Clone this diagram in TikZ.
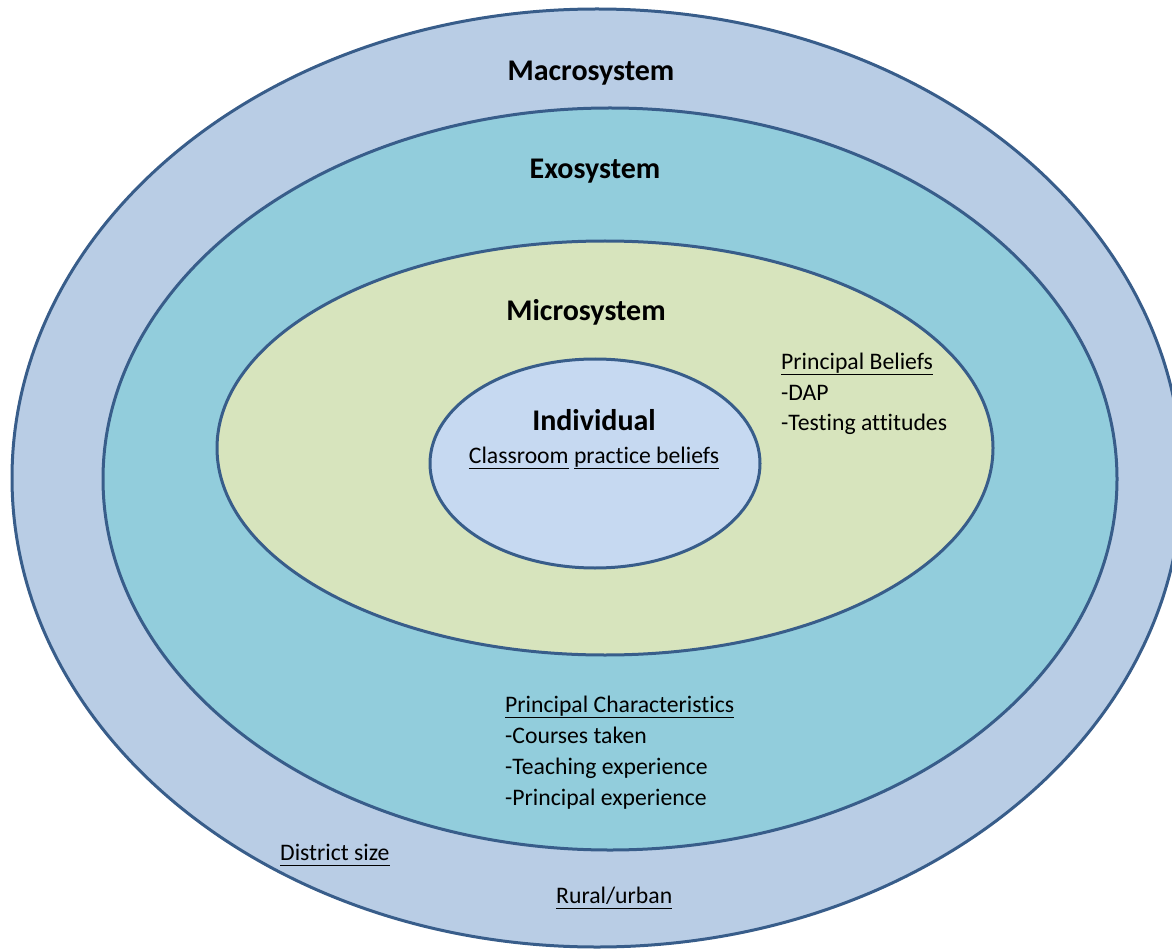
\documentclass[tikz,border=0pt]{standalone}
\usepackage{fontspec}
\setmainfont{Carlito}[Ligatures={NoCommon}]
\definecolor{ringline}{HTML}{385D8A}
\definecolor{macrofill}{HTML}{B9CDE5}
\definecolor{exofill}{HTML}{92CDDC}
\definecolor{microfill}{HTML}{D7E4BD}
\definecolor{indivfill}{HTML}{C6D9F1}
\newcommand\uln[1]{\underline{#1\vphantom{gp}}}
\begin{document}
\begin{tikzpicture}[x=1pt,y=-1pt,
  ring/.style={draw=ringline,line width=3pt},
  title/.style={font=\bfseries\fontsize{30}{36}\selectfont,inner sep=0pt,anchor=base},
  item/.style={font=\fontsize{23.7}{31}\selectfont,inner sep=0pt,anchor=base west}]
\useasboundingbox (0,0) rectangle (1172,949);
\clip (0,0) rectangle (1172,949);
% nested systems
\filldraw[ring,fill=macrofill] (597,478) ellipse [x radius=585,y radius=469];
\filldraw[ring,fill=exofill] (610,479) ellipse [x radius=507,y radius=371];
\filldraw[ring,fill=microfill] (605,448) ellipse [x radius=388,y radius=207];
\filldraw[ring,fill=indivfill] (595,463.5) ellipse [x radius=165,y radius=104.5];
% titles
\node[title] (macro) at (591,81) {Macrosystem};
\node[title] (exo) at (595,179) {Exosystem};
\node[title] (micro) at (586,321) {Microsystem};
\node[title] (indiv) at (594,430) {Individual};
\node[item,anchor=base] (classroom) at (594,463) {\uln{Classroom} \uln{practice beliefs}};
% microsystem factors
\node[item] (pb) at (781,369) {\uln{Principal Beliefs}};
\node[item] (pb1) at (781,400) {-DAP};
\node[item] (pb2) at (781,430.5) {-Testing attitudes};
% exosystem factors
\node[item] (pc) at (505,712) {\uln{Principal Characteristics}};
\node[item] (pc1) at (505,743) {-Courses taken};
\node[item] (pc2) at (505,774) {-Teaching experience};
\node[item] (pc3) at (505,805) {-Principal experience};
% macrosystem factors
\node[item] (district) at (280,860) {\uln{District size}};
\node[item] (rural) at (556,903) {\uln{Rural/urban}};
\end{tikzpicture}
\end{document}
